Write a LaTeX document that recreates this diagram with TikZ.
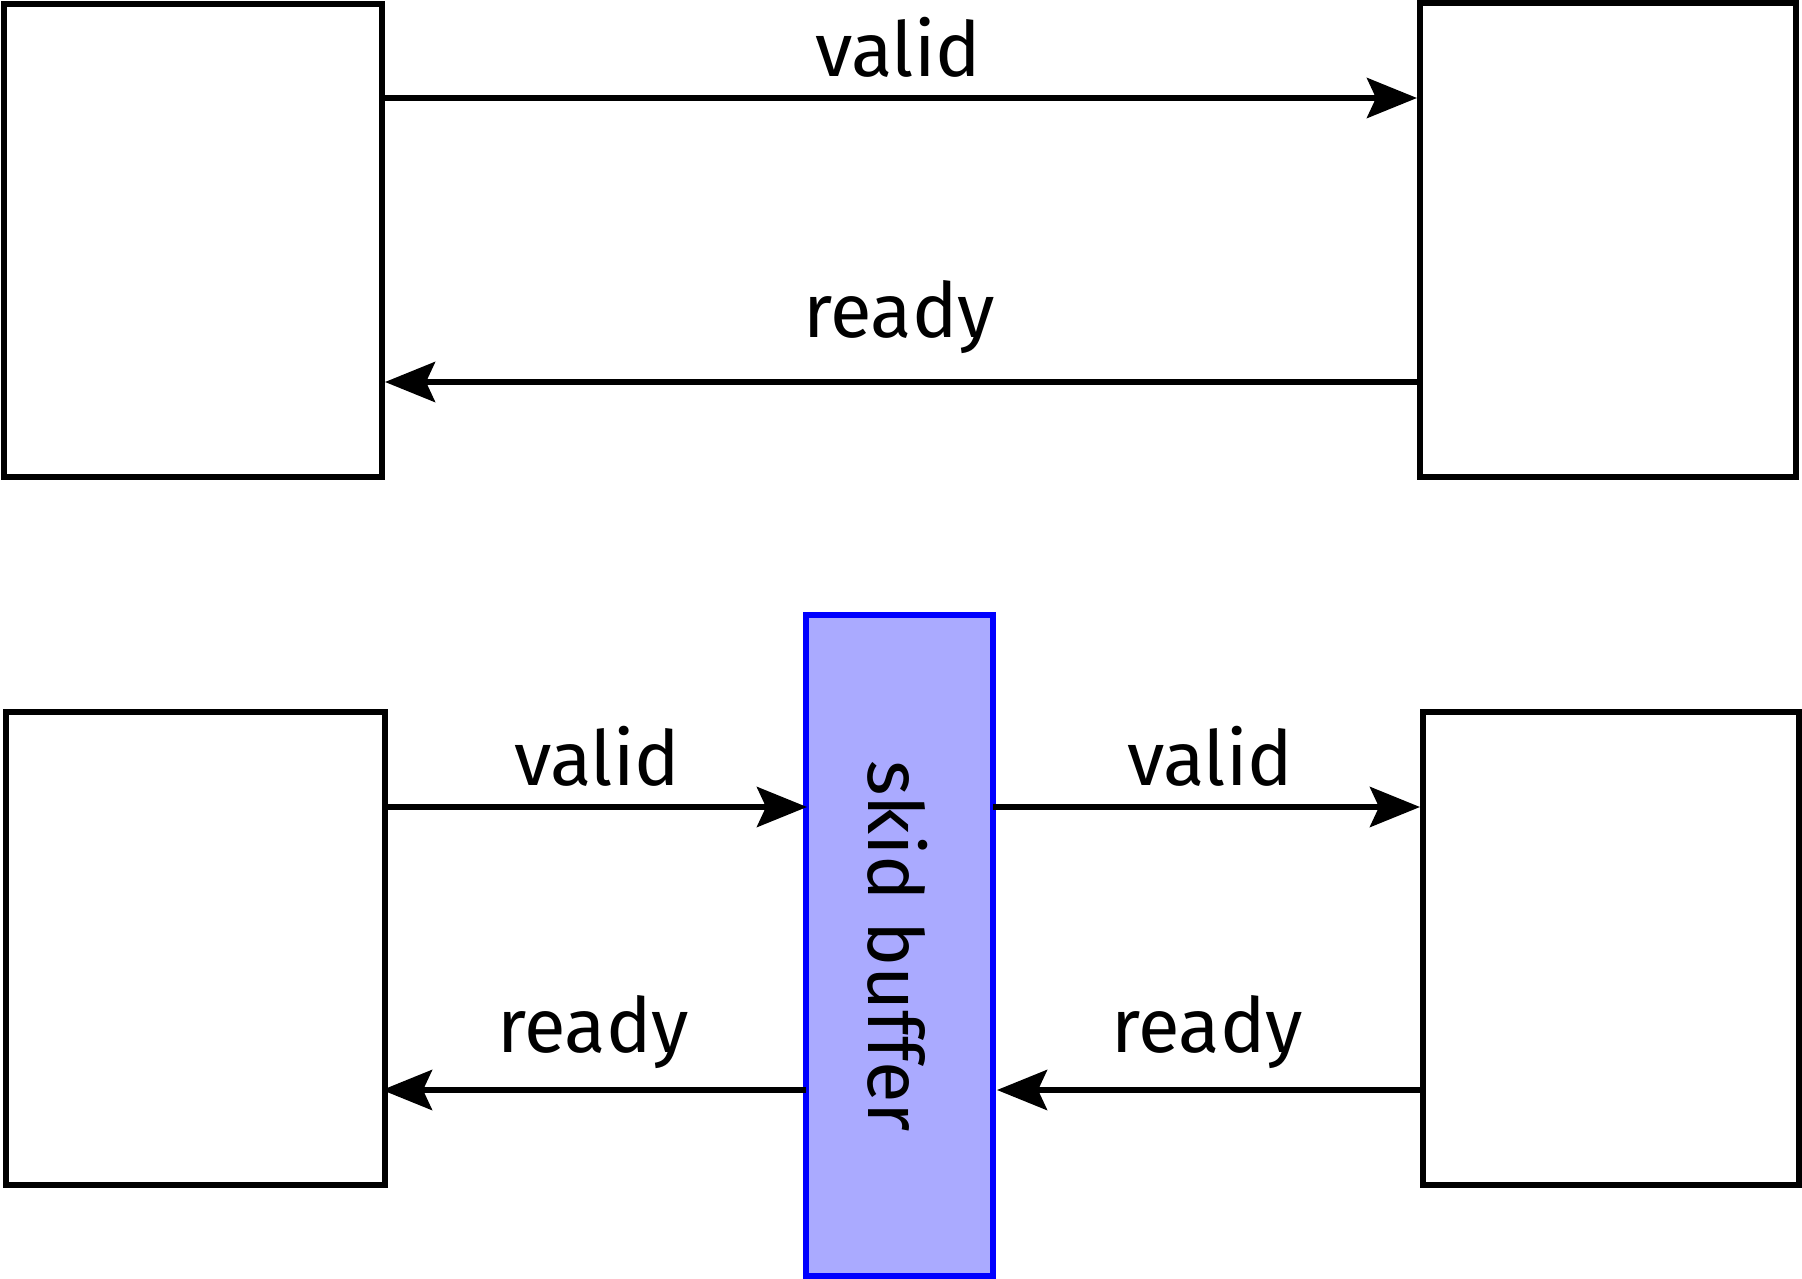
\documentclass[tikz,border=0pt]{standalone}
\usepackage{fontspec}
\setmainfont{Fira Sans}
\usetikzlibrary{arrows.meta}
\begin{document}
\begin{tikzpicture}[x=1pt,y=-1pt,
  blk/.style={draw=black,line width=6pt,fill=white,inner sep=0pt,rectangle},
  skid/.style={draw=blue,line width=6pt,fill={rgb,255:red,170;green,170;blue,255},inner sep=0pt,rectangle},
  sig/.style={line width=6pt,-{Stealth[length=50pt,width=40pt,inset=9pt]}},
  lbl/.style={font=\fontsize{76}{80}\selectfont,anchor=base,inner sep=0pt}
]
\useasboundingbox (0,0) rectangle (1802,1279);
% top pair
\node[blk,minimum width=378pt,minimum height=473pt] (A) at (192.5,240.5) {};
\node[blk,minimum width=376pt,minimum height=474pt] (B) at (1608,240) {};
\coordinate (Av) at (381.5,98);
\coordinate (Bv) at (1417,98);
\coordinate (Br) at (1420,382);
\coordinate (Ar) at (385,382);
\draw[sig] (Av) -- (Bv);
\draw[sig] (Br) -- (Ar);
\node[lbl] (tv) at (898,77) {valid};
\node[lbl] (tr) at (899,337) {ready};
% bottom
\node[blk,minimum width=379pt,minimum height=473pt] (C) at (195.5,948.5) {};
\node[blk,minimum width=376pt,minimum height=473pt] (D) at (1611,948.5) {};
\node[skid,minimum width=187pt,minimum height=661pt] (S) at (899.5,945.5) {};
\coordinate (Cv) at (385,807);
\coordinate (Sv1) at (807,807);
\coordinate (Sv2) at (993,807);
\coordinate (Dv) at (1420,807);
\coordinate (Dr) at (1423,1090);
\coordinate (Sr2) at (997,1090);
\coordinate (Sr1) at (806,1090);
\coordinate (Cr) at (382,1090);
\draw[sig] (Cv) -- (Sv1);
\draw[sig] (Sv2) -- (Dv);
\draw[sig] (Dr) -- (Sr2);
\draw[sig] (Sr1) -- (Cr);
\node[lbl] (bv1) at (597,785) {valid};
\node[lbl] (br1) at (593,1052) {ready};
\node[lbl] (bv2) at (1210,785) {valid};
\node[lbl] (br2) at (1207,1052) {ready};
\node[lbl,rotate=-90] (sl) at (868,946) {skid buffer};
\end{tikzpicture}
\end{document}
